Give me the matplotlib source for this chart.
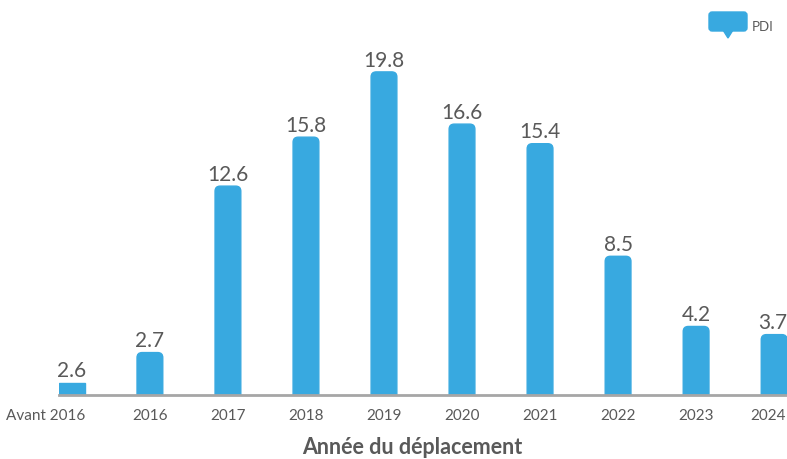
import matplotlib
matplotlib.use("Agg")
import matplotlib.pyplot as plt
from matplotlib.patches import FancyBboxPatch, Polygon
from matplotlib.transforms import ScaledTranslation

# Données
categories = ["Avant 2016", "2016", "2017", "2018", "2019",
              "2020", "2021", "2022", "2023", "2024"]
labels_pdi = [2.6, 2.7, 12.6, 15.8, 19.8, 16.6, 15.4, 8.5, 4.2, 3.7]
# hauteur réellement dessinée (la 1re barre est plus courte que son étiquette)
heights_pdi = [0.75, 2.6, 12.8, 15.8, 19.8, 16.6, 15.4, 8.5, 4.2, 3.7]

BLUE = "#38A9E0"
GREY_TXT = "#595959"
plt.rcParams["font.family"] = ["Lato", "DejaVu Sans"]


def main():
    fig = plt.figure(figsize=(7.87, 4.59), dpi=100)
    ax = fig.add_axes([59 / 787, 64 / 459, 728 / 787, (395 - 36) / 459])

    width = 0.33
    x = list(range(len(categories)))
    bars = ax.bar(x, heights_pdi, width=width, color="none")
    n = len(categories)

    # barres à coins arrondis (la 1re est carrée)
    for i, b in enumerate(bars):
        if i == 0:
            patch = FancyBboxPatch((b.get_x(), 0), b.get_width(), b.get_height(),
                                   boxstyle="square,pad=0", color=BLUE, zorder=2)
        else:
            patch = FancyBboxPatch((b.get_x(), -1), b.get_width(), b.get_height() + 1,
                                   boxstyle="round,pad=0,rounding_size=0.065",
                                   mutation_aspect=4.8, color=BLUE, zorder=2)
        ax.add_patch(patch)
        if i == n - 1:
            # dernière étiquette calée à droite pour rester dans l'image
            ax.annotate(f"{labels_pdi[i]}", (b.get_x() + b.get_width(), b.get_height()),
                        xytext=(0, 1), textcoords="offset points",
                        ha="right", va="bottom", fontsize=15, color=GREY_TXT)
        else:
            ax.annotate(f"{labels_pdi[i]}", (b.get_x() + b.get_width() / 2, b.get_height()),
                        xytext=(0, 1), textcoords="offset points",
                        ha="center", va="bottom", fontsize=15, color=GREY_TXT)

    ax.set_xlim(-width / 2, n - 1 + width / 2)
    ax.set_ylim(0, 22)
    ax.axhline(0, color="#A6A6A6", lw=2, zorder=3, clip_on=False)

    ax.set_xticks(x)
    ax.set_xticklabels(categories, fontsize=11, color=GREY_TXT)
    ax.tick_params(axis="x", length=0, pad=10)
    ticklabels = ax.get_xticklabels()
    first = ticklabels[0]
    first.set_ha("right")
    first.set_transform(first.get_transform() + ScaledTranslation(13 / 100, 0, fig.dpi_scale_trans))
    last = ticklabels[-1]
    last.set_ha("right")
    last.set_transform(last.get_transform() + ScaledTranslation(12 / 100, 0, fig.dpi_scale_trans))
    ax.set_yticks([])
    for s in ax.spines.values():
        s.set_visible(False)

    fig.text(412 / 787, 1 - 447 / 459, "Année du déplacement", ha="center", va="center",
             fontsize=15.5, fontweight="bold", color=GREY_TXT)

    # légende en forme de bulle
    H = 459
    bubble = FancyBboxPatch((709 / 787, 1 - 31 / H), 38 / 787, 19 / H,
                            boxstyle="round,pad=0,rounding_size=0.004",
                            mutation_aspect=787 / 459, color=BLUE,
                            transform=fig.transFigure)
    tail = Polygon([(723 / 787, 1 - 30 / H), (733 / 787, 1 - 30 / H), (728 / 787, 1 - 38 / H)],
                   closed=True, color=BLUE, transform=fig.transFigure)
    fig.patches.extend([bubble, tail])
    fig.text(752 / 787, 1 - 27 / H, "PDI", ha="left", va="center", fontsize=9.5, color=GREY_TXT)

    fig.savefig("out.png", dpi=100)


if __name__ == "__main__":
    main()
